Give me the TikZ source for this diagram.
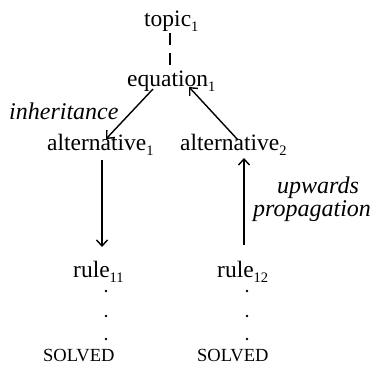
\documentclass[tikz,border=0pt]{standalone}
\usepackage{fontspec}
\setmainfont{Liberation Serif}
\usetikzlibrary{arrows.meta}
\newcommand{\sbs}[1]{\raisebox{-4.5pt}{\fontsize{14.5}{14.5}\selectfont #1}}
\tikzset{
  lbl/.style={inner sep=0pt, anchor=base west, font=\fontsize{23.5}{26}\selectfont},
  ital/.style={inner sep=0pt, anchor=base west, font=\fontsize{24}{26}\selectfont\itshape},
  solved/.style={inner sep=0pt, anchor=base west, font=\fontsize{18.5}{20}\selectfont},
  conn/.style={line width=1.4pt, -{Straight Barb[length=6pt,width=11pt,line width=1.4pt]}},
  dotmark/.style={circle, fill=black, inner sep=0pt, minimum size=2.8pt},
}
\begin{document}
\begin{tikzpicture}[x=1pt,y=-1pt]
\useasboundingbox (0,0) rectangle (378,366);
\node[lbl] (topic) at (144,27) {topic\sbs{1}};
\node[lbl] (eq) at (127,87) {equation\sbs{1}};
\node[lbl] (alt1) at (47,151) {alternative\sbs{1}};
\node[lbl] (alt2) at (180,151) {alternative\sbs{2}};
\node[lbl] (r11) at (73,278) {rule\sbs{11}};
\node[lbl] (r12) at (217,278) {rule\sbs{12}};
\node[solved] (s1) at (43,362) {SOLVED};
\node[solved] (s2) at (197,362) {SOLVED};
\node[ital] (inh) at (9,120) {inheritance};
\node[ital, text depth=2pt] (up) at (277,194) {upwards};
\node[ital, text height=12pt] (prop) at (253,217) {propagation};
% connector end points
\coordinate (t1) at (170,33);
\coordinate (t2) at (170,65);
\coordinate (e1) at (153,89);
\coordinate (a1) at (106,139);
\coordinate (a2s) at (238,140);
\coordinate (e2) at (189,87);
\coordinate (v1s) at (102,160);
\coordinate (v1e) at (102,247);
\coordinate (v2s) at (244,245);
\coordinate (v2e) at (244,158);
\draw[line width=1.4pt, dash pattern=on 12pt off 8pt] (t1) -- (t2);
\draw[conn] (e1) -- (a1);
\draw[conn] (a2s) -- (e2);
\draw[conn] (v1s) -- (v1e);
\draw[conn] (v2s) -- (v2e);
\foreach \y [count=\i] in {291,316,339} {
  \node[dotmark] (dl\i) at (106,\y) {};
  \node[dotmark] (dr\i) at (247,\y) {};
}
\end{tikzpicture}
\end{document}
